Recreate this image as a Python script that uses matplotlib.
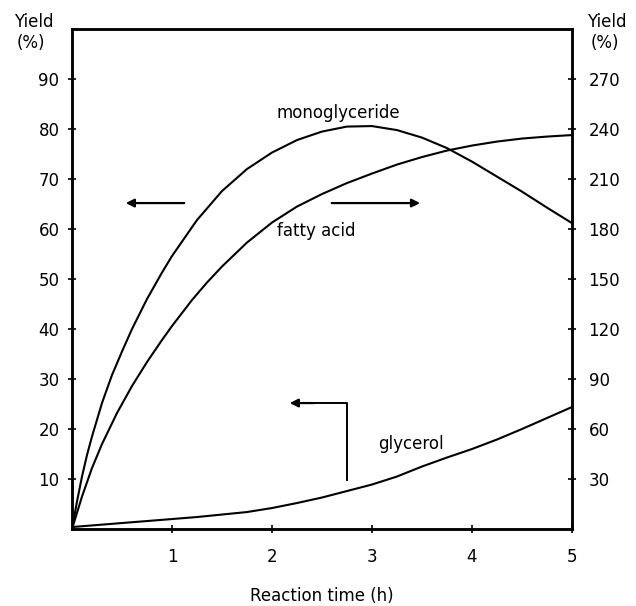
import matplotlib
matplotlib.use('Agg')
import matplotlib.pyplot as plt

# reaction time (h) and yield (%)
mono_t = [0, 0.05, 0.1, 0.15, 0.2, 0.3, 0.4, 0.5, 0.6, 0.75, 0.9, 1.0, 1.25, 1.5, 1.75,
          2.0, 2.25, 2.5, 2.75, 3.0, 3.25, 3.5, 3.75, 4.0, 4.25, 4.5, 4.75, 5.0]
mono_y = [0, 5.5, 10.5, 14.8, 18.5, 25.2, 30.8, 35.5, 40.0, 46.0, 51.3, 54.6, 61.8, 67.6, 72.0,
          75.3, 77.8, 79.5, 80.5, 80.6, 79.8, 78.3, 76.2, 73.5, 70.5, 67.5, 64.3, 61.2]

fatty_t = [0, 0.1, 0.2, 0.3, 0.45, 0.6, 0.75, 0.9, 1.0, 1.2, 1.35, 1.5, 1.75, 2.0, 2.25,
           2.5, 2.75, 3.0, 3.25, 3.5, 3.75, 4.0, 4.25, 4.5, 4.75, 5.0]
fatty_y = [0, 6.5, 12.2, 17.0, 23.2, 28.6, 33.4, 37.8, 40.6, 45.8, 49.3, 52.5, 57.3, 61.3, 64.5,
           67.0, 69.2, 71.1, 72.9, 74.4, 75.7, 76.7, 77.5, 78.1, 78.5, 78.8]

glyc_t = [0, 0.25, 0.5, 0.75, 1.0, 1.25, 1.5, 1.75, 2.0, 2.25, 2.5, 2.75, 3.0, 3.25,
          3.5, 3.75, 4.0, 4.25, 4.5, 4.75, 5.0]
glyc_y = [0.4, 0.8, 1.2, 1.6, 2.0, 2.4, 2.9, 3.4, 4.2, 5.2, 6.3, 7.6, 8.9, 10.5,
          12.5, 14.3, 16.0, 17.9, 20.0, 22.2, 24.4]

x_ticks = [1, 2, 3, 4, 5]
left_ticks = [10, 20, 30, 40, 50, 60, 70, 80, 90]
right_ticks = [30, 60, 90, 120, 150, 180, 210, 240, 270]

plt.rcParams['font.family'] = ['DejaVu Sans']
plt.rcParams['font.size'] = 12

fig = plt.figure(figsize=(6.36, 6.06), dpi=100)
ax = fig.add_axes([0.1132, 0.127, 0.786, 0.825])

lw = 1.5
ax.plot(mono_t, mono_y, color='black', lw=lw)
ax.plot(fatty_t, fatty_y, color='black', lw=lw)
ax.plot(glyc_t, glyc_y, color='black', lw=lw)

ax.set_xlim(0, 5)
ax.set_ylim(0, 100)
ax.set_xticks(x_ticks)
ax.set_yticks(left_ticks)
ax.tick_params(axis='both', direction='inout', length=6, width=1.2, color='black')
ax.tick_params(axis='x', pad=11)
ax.tick_params(axis='y', pad=6)
for s in ax.spines.values():
    s.set_linewidth(1.8)

ax2 = ax.twinx()
ax2.set_ylim(0, 300)
ax2.set_yticks(right_ticks)
ax2.tick_params(axis='y', direction='inout', length=6, width=1.2, pad=9)
for s in ax2.spines.values():
    s.set_linewidth(1.8)

ax.set_xlabel('Reaction time (h)', labelpad=15)

fig.text(34 / 636, 1 - 22 / 606, 'Yield', ha='center', va='center')
fig.text(31 / 636, 1 - 43 / 606, '(%)', ha='center', va='center')
fig.text(607 / 636, 1 - 22 / 606, 'Yield', ha='center', va='center')
fig.text(605 / 636, 1 - 43 / 606, '(%)', ha='center', va='center')

ax.text(2.66, 83.2, 'monoglyceride', ha='center', va='center')
ax.text(2.44, 59.6, 'fatty acid', ha='center', va='center')
ax.text(3.39, 17.0, 'glycerol', ha='center', va='center')

arrow = dict(arrowstyle='-|>', color='black', lw=1.6, mutation_scale=12)
ax.annotate('', xy=(0.51, 65.2), xytext=(1.15, 65.2), arrowprops=arrow)
ax.annotate('', xy=(3.51, 65.2), xytext=(2.57, 65.2), arrowprops=arrow)
ax.plot([2.75, 2.75, 2.4], [9.8, 25.2, 25.2], color='black', lw=1.4)
ax.annotate('', xy=(2.15, 25.2), xytext=(2.45, 25.2), arrowprops=arrow)

fig.savefig('out.png', dpi=100)
